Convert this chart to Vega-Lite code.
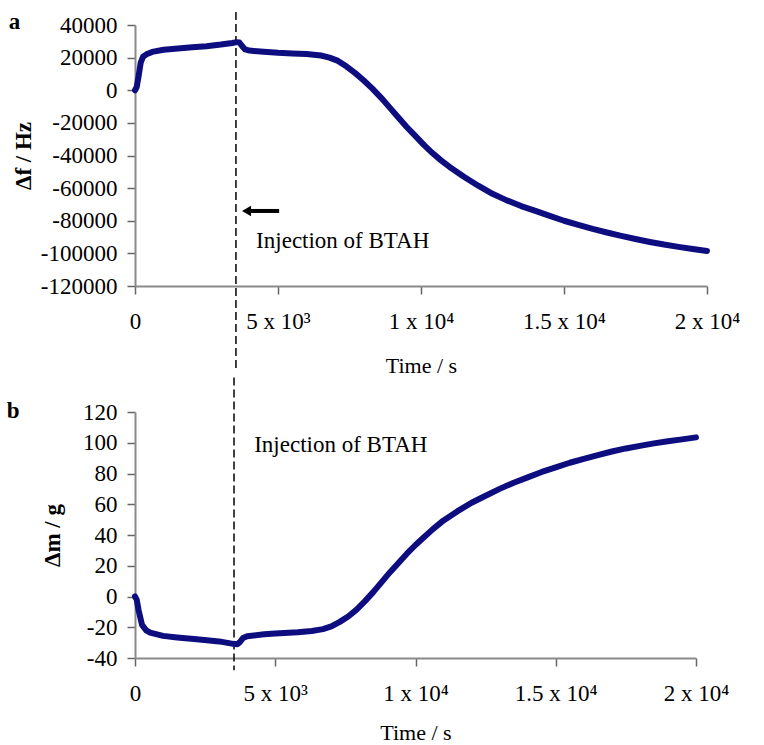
{
  "$schema": "https://vega.github.io/schema/vega-lite/v6.json",
  "background": "white",
  "padding": {"left": 6, "top": 10, "right": 5, "bottom": 0},
  "spacing": 0,
  "config": {
    "font": "Liberation Serif",
    "view": {"stroke": null},
    "axis": {
      "labelFont": "Liberation Serif", "titleFont": "Liberation Serif",
      "labelFontSize": 23, "titleFontSize": 22, "labelColor": "black", "titleColor": "black",
      "domainColor": "#8a8a8a", "domainWidth": 2, "tickColor": "#666", "tickWidth": 1.5, "tickSize": 8,
      "grid": false, "labelOverlap": false, "labelFlush": false
    }
  },
  "datasets": {
    "one": [{"k": 1}],
    "freq": [
      {"t": 0, "v": 0}, {"t": 60, "v": 2000}, {"t": 120, "v": 8000}, {"t": 200, "v": 17000},
      {"t": 280, "v": 20500}, {"t": 400, "v": 22000}, {"t": 600, "v": 23500}, {"t": 1000, "v": 24800},
      {"t": 1500, "v": 25600}, {"t": 2000, "v": 26300}, {"t": 2500, "v": 27000}, {"t": 3000, "v": 28000},
      {"t": 3400, "v": 29000}, {"t": 3550, "v": 29500}, {"t": 3650, "v": 29300}, {"t": 3750, "v": 27000},
      {"t": 3850, "v": 25000}, {"t": 4000, "v": 24300}, {"t": 4500, "v": 23600}, {"t": 5000, "v": 23000},
      {"t": 5500, "v": 22600}, {"t": 6000, "v": 22200}, {"t": 6500, "v": 21300}, {"t": 6800, "v": 20000},
      {"t": 7100, "v": 18000}, {"t": 7400, "v": 14500}, {"t": 7700, "v": 10500}, {"t": 8000, "v": 6000},
      {"t": 8300, "v": 1000}, {"t": 8600, "v": -4500}, {"t": 8900, "v": -10500}, {"t": 9200, "v": -16500},
      {"t": 9500, "v": -22500}, {"t": 9800, "v": -28000}, {"t": 10100, "v": -33500}, {"t": 10400, "v": -38500},
      {"t": 10700, "v": -43000}, {"t": 11000, "v": -47000}, {"t": 11500, "v": -53000}, {"t": 12000, "v": -58500},
      {"t": 12500, "v": -63500}, {"t": 13000, "v": -67500}, {"t": 13500, "v": -71000}, {"t": 14000, "v": -74000},
      {"t": 14500, "v": -77000}, {"t": 15000, "v": -80000}, {"t": 15500, "v": -82500}, {"t": 16000, "v": -85000},
      {"t": 16500, "v": -87200}, {"t": 17000, "v": -89300}, {"t": 17500, "v": -91200}, {"t": 18000, "v": -93000},
      {"t": 18500, "v": -94600}, {"t": 19000, "v": -96000}, {"t": 19500, "v": -97300}, {"t": 20000, "v": -98500}
    ],
    "mass": [
      {"t": 0, "v": 0}, {"t": 60, "v": -2}, {"t": 130, "v": -9}, {"t": 250, "v": -18.5},
      {"t": 400, "v": -22}, {"t": 540, "v": -23.5}, {"t": 1000, "v": -25.6}, {"t": 1500, "v": -26.6},
      {"t": 2200, "v": -27.8}, {"t": 3000, "v": -29.2}, {"t": 3500, "v": -30.8}, {"t": 3650, "v": -31},
      {"t": 3750, "v": -29.5}, {"t": 3850, "v": -27}, {"t": 4000, "v": -25.8}, {"t": 4600, "v": -24.6},
      {"t": 5000, "v": -24}, {"t": 5800, "v": -23.2}, {"t": 6300, "v": -22.4}, {"t": 6700, "v": -21.2},
      {"t": 7000, "v": -19.5}, {"t": 7300, "v": -16.5}, {"t": 7600, "v": -13}, {"t": 7900, "v": -8.5},
      {"t": 8200, "v": -3}, {"t": 8500, "v": 3}, {"t": 8800, "v": 9.5}, {"t": 9100, "v": 16},
      {"t": 9400, "v": 22}, {"t": 9700, "v": 28}, {"t": 10000, "v": 33.5}, {"t": 10300, "v": 38.5},
      {"t": 10600, "v": 43.5}, {"t": 11000, "v": 49.5}, {"t": 11500, "v": 55.5}, {"t": 12000, "v": 61},
      {"t": 12500, "v": 65.5}, {"t": 13000, "v": 70}, {"t": 13500, "v": 74}, {"t": 14000, "v": 77.5},
      {"t": 14500, "v": 81}, {"t": 15000, "v": 84}, {"t": 15500, "v": 87}, {"t": 16000, "v": 89.5},
      {"t": 16500, "v": 92}, {"t": 17000, "v": 94.3}, {"t": 17500, "v": 96.3}, {"t": 18000, "v": 98},
      {"t": 18500, "v": 99.6}, {"t": 19000, "v": 101}, {"t": 19500, "v": 102.2}, {"t": 20000, "v": 103.5}
    ]
  },
  "vconcat": [
    {
      "width": 572, "height": 261,
      "layer": [
        {
          "data": {"name": "one"},
          "mark": {"type": "rule", "color": "black", "strokeWidth": 1.5, "strokeDash": [8, 4]},
          "encoding": {
            "x": {"datum": 3530, "type": "quantitative", "scale": {"domain": [0, 20000], "nice": false}},
            "y": {"datum": 48000, "type": "quantitative", "scale": {"domain": [-120000, 40000], "nice": false}},
            "y2": {"datum": -172000}
          }
        },
        {
          "data": {"name": "freq"},
          "mark": {"type": "line", "color": "#0d0d80", "strokeWidth": 6, "strokeJoin": "round", "strokeCap": "round"},
          "encoding": {
            "x": {"field": "t", "type": "quantitative", "scale": {"domain": [0, 20000], "nice": false},
              "axis": {"title": "Time / s", "values": [0, 5000, 10000, 15000, 20000], "tickCount": 50, "labelPadding": 16, "titlePadding": 22, "titleFontWeight": "normal", "labelOverlap": false, "labelFlush": false,
                "labelExpr": "datum.value == 0 ? '0' : datum.value == 5000 ? '5 x 10³' : datum.value == 10000 ? '1 x 10⁴' : datum.value == 15000 ? '1.5 x 10⁴' : '2 x 10⁴'",
                "encode": {"labels": {"update": {"dx": {"signal": "datum.value == 5000 ? 15 : datum.value == 20000 ? 12 : datum.value == 0 ? -3 : 0"}}}}}},
            "y": {"field": "v", "type": "quantitative", "scale": {"domain": [-120000, 40000], "nice": false},
              "axis": {"title": "Δf / Hz", "values": [-120000, -100000, -80000, -60000, -40000, -20000, 0, 20000, 40000], "tickCount": 50, "labelExpr": "'' + datum.value", "labelOverlap": false, "labelPadding": 10, "titlePadding": 5, "titleFontWeight": "bold", "titleFontSize": 23}}
          }
        },
        {
          "data": {"name": "one"},
          "mark": {"type": "rule", "color": "black", "strokeWidth": 4},
          "encoding": {
            "x": {"datum": 4000, "type": "quantitative"},
            "x2": {"datum": 5040},
            "y": {"datum": -74000, "type": "quantitative"}
          }
        },
        {
          "data": {"name": "one"},
          "mark": {"type": "point", "shape": "triangle-left", "filled": true, "color": "black", "size": 110, "opacity": 1},
          "encoding": {
            "x": {"datum": 3900, "type": "quantitative"},
            "y": {"datum": -74000, "type": "quantitative"}
          }
        },
        {
          "data": {"name": "one"},
          "mark": {"type": "text", "text": "Injection of BTAH", "align": "left", "baseline": "alphabetic", "fontSize": 23, "font": "Liberation Serif", "color": "black"},
          "encoding": {
            "x": {"datum": 4235, "type": "quantitative"},
            "y": {"datum": -97000, "type": "quantitative"}
          }
        },
        {
          "data": {"name": "one"},
          "mark": {"type": "text", "text": "a", "align": "left", "baseline": "alphabetic", "fontSize": 23, "fontWeight": "bold", "font": "Liberation Serif", "color": "black"},
          "encoding": {
            "x": {"datum": -4410, "type": "quantitative"},
            "y": {"datum": 37600, "type": "quantitative"}
          }
        }
      ]
    },
    {
      "width": 561, "height": 246,
      "layer": [
        {
          "data": {"name": "one"},
          "mark": {"type": "rule", "color": "black", "strokeWidth": 1.5, "strokeDash": [8, 4]},
          "encoding": {
            "x": {"datum": 3530, "type": "quantitative", "scale": {"domain": [0, 20000], "nice": false}},
            "y": {"datum": 142.5, "type": "quantitative", "scale": {"domain": [-40, 120], "nice": false}},
            "y2": {"datum": -48}
          }
        },
        {
          "data": {"name": "mass"},
          "mark": {"type": "line", "color": "#0d0d80", "strokeWidth": 6, "strokeJoin": "round", "strokeCap": "round"},
          "encoding": {
            "x": {"field": "t", "type": "quantitative", "scale": {"domain": [0, 20000], "nice": false},
              "axis": {"title": "Time / s", "values": [0, 5000, 10000, 15000, 20000], "tickCount": 50, "labelPadding": 16, "titlePadding": 17, "titleFontWeight": "normal", "labelOverlap": false, "labelFlush": false,
                "labelExpr": "datum.value == 0 ? '0' : datum.value == 5000 ? '5 x 10³' : datum.value == 10000 ? '1 x 10⁴' : datum.value == 15000 ? '1.5 x 10⁴' : '2 x 10⁴'",
                "encode": {"labels": {"update": {"dx": {"signal": "datum.value == 5000 ? 15 : datum.value == 20000 ? 12 : datum.value == 0 ? -3 : 0"}}}}}},
            "y": {"field": "v", "type": "quantitative", "scale": {"domain": [-40, 120], "nice": false},
              "axis": {"title": "Δm / g", "values": [-40, -20, 0, 20, 40, 60, 80, 100, 120], "tickCount": 50, "labelExpr": "'' + datum.value", "labelOverlap": false, "labelPadding": 10, "titlePadding": 18, "titleFontWeight": "bold", "titleFontSize": 23}}
          }
        },
        {
          "data": {"name": "one"},
          "mark": {"type": "text", "text": "Injection of BTAH", "align": "left", "baseline": "alphabetic", "fontSize": 23, "font": "Liberation Serif", "color": "black"},
          "encoding": {
            "x": {"datum": 4250, "type": "quantitative"},
            "y": {"datum": 94, "type": "quantitative"}
          }
        },
        {
          "data": {"name": "one"},
          "mark": {"type": "text", "text": "b", "align": "left", "baseline": "alphabetic", "fontSize": 23, "fontWeight": "bold", "font": "Liberation Serif", "color": "black"},
          "encoding": {
            "x": {"datum": -4570, "type": "quantitative"},
            "y": {"datum": 116.3, "type": "quantitative"}
          }
        }
      ]
    }
  ]
}
